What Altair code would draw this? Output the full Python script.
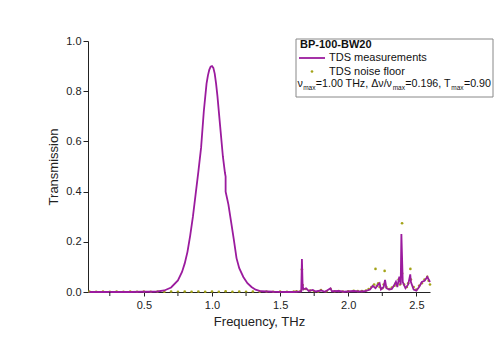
import altair as alt
import pandas as pd

# ---- measured transmission (purple line) ----
meas_freq = [0.10, 0.20, 0.30, 0.40, 0.50, 0.55, 0.60, 0.65, 0.70, 0.75, 0.78, 0.80,
             0.82, 0.84, 0.86, 0.88, 0.90, 0.92, 0.94, 0.96, 0.97, 0.98, 0.99, 1.00,
             1.01, 1.02, 1.03, 1.04, 1.06, 1.08, 1.095, 1.10, 1.10, 1.12, 1.14, 1.16,
             1.18, 1.20, 1.23, 1.26, 1.29, 1.32, 1.36, 1.45, 1.55, 1.60, 1.655, 1.66,
             1.665, 1.67, 1.69, 1.71, 1.74, 1.76, 1.80, 1.83, 1.87, 1.88, 1.93, 1.97,
             2.04, 2.08, 2.12, 2.16, 2.18, 2.20, 2.22, 2.23, 2.24, 2.26, 2.27, 2.28,
             2.30, 2.32, 2.34, 2.35, 2.36, 2.375, 2.385, 2.39, 2.40, 2.42, 2.44, 2.455,
             2.46, 2.48, 2.50, 2.52, 2.54, 2.56, 2.58, 2.60]
meas_trans = [0.000, 0.000, 0.000, 0.000, 0.001, 0.001, 0.002, 0.006, 0.018, 0.046, 0.080, 0.114,
              0.160, 0.225, 0.300, 0.390, 0.480, 0.575, 0.720, 0.830, 0.862, 0.885, 0.898, 0.900,
              0.893, 0.870, 0.830, 0.780, 0.660, 0.540, 0.475, 0.460, 0.400, 0.350, 0.280, 0.210,
              0.135, 0.095, 0.060, 0.035, 0.020, 0.009, 0.003, 0.001, 0.000, 0.000, 0.002, 0.131,
              0.030, 0.010, 0.015, 0.004, 0.008, 0.002, 0.006, 0.001, 0.015, 0.003, 0.004, 0.001,
              0.004, 0.002, 0.003, 0.010, 0.025, 0.015, 0.030, 0.035, 0.010, 0.020, 0.048, 0.015,
              0.010, 0.012, 0.030, 0.041, 0.020, 0.061, 0.030, 0.231, 0.040, 0.015, 0.030, 0.070,
              0.040, 0.010, 0.005, 0.020, 0.040, 0.045, 0.060, 0.040]

# ---- noise floor (olive dots) ----
noise_freq = [0.10, 0.15, 0.20, 0.25, 0.30, 0.35, 0.40, 0.45, 0.50, 0.55, 0.60, 0.65, 0.70,
              0.75, 0.80, 0.85, 0.90, 0.95, 1.00, 1.05, 1.10, 1.15, 1.20, 1.25, 1.30, 1.35,
              1.40, 1.45, 1.50, 1.55, 1.60, 1.62, 1.65, 1.66, 1.665, 1.67, 1.69, 1.72, 1.75,
              1.78, 1.80, 1.84, 1.87, 1.90, 1.93, 1.96, 2.00, 2.04, 2.07, 2.10, 2.13, 2.15,
              2.17, 2.19, 2.20, 2.21, 2.22, 2.23, 2.25, 2.26, 2.267, 2.28, 2.30, 2.32, 2.34,
              2.35, 2.37, 2.38, 2.395, 2.395, 2.41, 2.43, 2.44, 2.456, 2.46, 2.48, 2.50, 2.52,
              2.54, 2.56, 2.58, 2.59, 2.60]
noise_trans = [0.002, 0.001, 0.002, 0.001, 0.002, 0.001, 0.002, 0.001, 0.002, 0.001, 0.002, 0.001, 0.002,
               0.001, 0.002, 0.001, 0.002, 0.001, 0.002, 0.001, 0.003, 0.001, 0.002, 0.001, 0.002, 0.001,
               0.002, 0.001, 0.002, 0.001, 0.002, 0.003, 0.004, 0.090, 0.028, 0.012, 0.012, 0.006, 0.003,
               0.002, 0.008, 0.003, 0.012, 0.003, 0.004, 0.002, 0.003, 0.005, 0.004, 0.004, 0.006, 0.012,
               0.020, 0.030, 0.092, 0.025, 0.035, 0.020, 0.015, 0.030, 0.084, 0.020, 0.012, 0.018, 0.025,
               0.035, 0.050, 0.030, 0.274, 0.074, 0.030, 0.020, 0.035, 0.092, 0.050, 0.020, 0.010, 0.025,
               0.035, 0.050, 0.060, 0.045, 0.030]

x_major = [0.5, 1.0, 1.5, 2.0, 2.5]
x_minor = [0.25, 0.75, 1.25, 1.75, 2.25]
y_ticks = [0.0, 0.2, 0.4, 0.6, 0.8, 1.0]

legend_title = "BP-100-BW20"
legend_items = ["TDS measurements", "TDS noise floor"]

PURPLE = "#9b1b9e"
OLIVE = "#a3a318"
FONT = "Liberation Sans"
AX = "#222"

df_m = pd.DataFrame({"f": meas_freq, "t": meas_trans, "i": list(range(len(meas_freq)))})
df_n = pd.DataFrame({"f": noise_freq, "t": noise_trans})
df_minor = pd.DataFrame({"f": x_minor})
one = pd.DataFrame({"a": [0]})

x_scale = alt.Scale(domain=[0.09, 2.6], nice=False, zero=False)
y_scale = alt.Scale(domain=[0.0, 1.0], nice=False)

x_axis = alt.Axis(values=x_major, format=".1f", title="Frequency, THz", grid=False,
                  tickSize=4, labelPadding=3, titlePadding=5, domainColor=AX, tickColor=AX,
                  labelColor=AX, titleColor=AX, labelFont=FONT, titleFont=FONT,
                  labelFontSize=11, titleFontSize=13, titleFontWeight="normal",
                  labelFlush=False)
y_axis = alt.Axis(values=y_ticks, format=".1f", title="Transmission", grid=False,
                  tickSize=5, labelPadding=2, titlePadding=5, domainColor=AX,
                  tickColor=AX, labelColor=AX, titleColor=AX,
                  labelFont=FONT, titleFont=FONT, labelFontSize=11, titleFontSize=13,
                  titleFontWeight="normal", labelFlush=False)

noise = alt.Chart(df_n).mark_circle(size=7, color=OLIVE, opacity=1).encode(
    x=alt.X("f:Q", scale=x_scale, axis=x_axis),
    y=alt.Y("t:Q", scale=y_scale, axis=y_axis),
)
line = alt.Chart(df_m).mark_line(color=PURPLE, strokeWidth=1.8).encode(
    x=alt.X("f:Q", scale=x_scale),
    y=alt.Y("t:Q", scale=y_scale),
    order="i:Q",
)
minor = alt.Chart(df_minor).mark_rule(color=AX, strokeWidth=1).encode(
    x=alt.X("f:Q", scale=x_scale),
    y=alt.value(251), y2=alt.value(255),
)

# ---- legend box (drawn manually) ----
box = alt.Chart(one).mark_rect(fill="white", stroke="#888", strokeWidth=1).encode(
    x=alt.value(208), x2=alt.value(405), y=alt.value(-2), y2=alt.value(56))

def txt(s, x, y, size=11, weight="normal"):
    return alt.Chart(one).mark_text(text=s, align="left", baseline="middle", font=FONT,
                                    fontSize=size, fontWeight=weight, color="#111").encode(
        x=alt.value(x), y=alt.value(y))

leg_line = alt.Chart(one).mark_rule(color=PURPLE, strokeWidth=1.8).encode(
    x=alt.value(211), x2=alt.value(237), y=alt.value(17))
leg_dot = alt.Chart(one).mark_circle(size=7, color=OLIVE, opacity=1).encode(
    x=alt.value(224), y=alt.value(30.5))

MS = 10.7   # main footer size
SS = 6.5    # subscript size
YM, YS = 43, 46.5
legend = [
    box,
    txt(legend_title, 212, 4, 11, "bold"),
    leg_line,
    txt(legend_items[0], 241, 17),
    leg_dot,
    txt(legend_items[1], 241, 30.5),
    txt("ν", 209.5, YM, MS),
    txt("max", 215.2, YS, SS),
    txt("=1.00 THz, Δν/ν", 227.8, YM, MS),
    txt("max", 304.7, YS, SS),
    txt("=0.196, T", 317.3, YM, MS),
    txt("max", 363.3, YS, SS),
    txt("=0.90", 375.9, YM, MS),
]

chart = alt.layer(noise, line, minor, *legend).properties(
    width=342, height=251,
    autosize=alt.AutoSizeParams(type="none"),
    padding={"left": 88, "top": 41, "right": 70, "bottom": 58},
    background="white",
).configure_view(stroke=None)

chart.save("out.html", embed_options={"renderer": "svg", "actions": False})
